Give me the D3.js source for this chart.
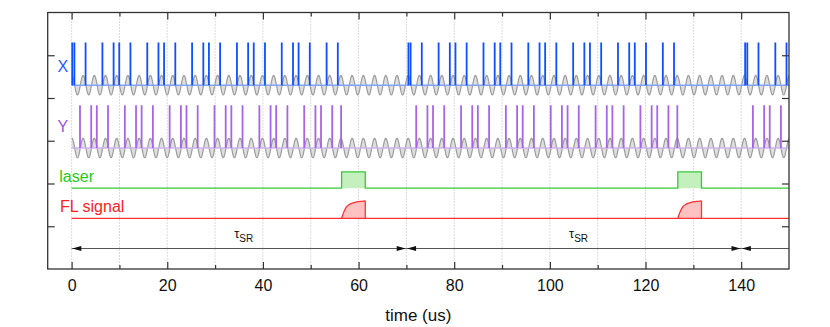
<!DOCTYPE html>
<html><head><meta charset="utf-8">
<script src="https://cdn.jsdelivr.net/npm/d3@7"></script>
<style>
html,body{margin:0;padding:0;background:#fff;}
svg{display:block;font-family:"Liberation Sans",Arial,sans-serif;}
</style></head><body>
<svg id="chart" width="830" height="327"></svg>
<script>
// ---------- data (time in us) ----------
const xPulseTimes = [0.13, 0.58, 2.92, 6.44, 8.78, 9.96, 12.30, 15.82, 18.16, 19.33, 21.68, 25.19, 27.54, 28.71, 31.05, 34.57, 36.91, 38.08, 40.43, 43.94, 46.29, 47.46, 49.80, 53.32, 55.66];
const yPulseTimes = [1.75, 4.10, 5.27, 7.61, 11.13, 13.47, 14.64, 16.99, 20.50, 22.85, 24.02, 26.36, 29.88, 32.22, 33.40, 35.74, 39.26, 41.60, 42.77, 45.12, 48.63, 50.98, 52.15, 54.49, 56.35];
const blockStarts = [0, 70.3, 140.7];
const laserStart = [56.45, 126.75];
const laserEnd = [61.4, 131.7];
const flRiseOffsets = [0, 0.35, 1.05, 1.74, 2.79, 3.83, 4.95];
const flRiseLevels = [0, 0.28, 0.66, 0.81, 0.91, 0.96, 1.0];
const tauSegments = [[0, 70], [70, 140], [140, 150]];
const tauLabelAt = [34, 104];
const xMajorTicks = [0, 20, 40, 60, 80, 100, 120, 140];
const xMinorTicks = [10, 30, 50, 70, 90, 110, 130];
const yTicks = [1, 2, 3, 4, 5];
const carrierPeriod = 2.344, carrierPeakAt = 2.40, carrierAmp = 0.227;
const tStart = 0, tEnd = 150;

// ---------- layout ----------
const x = d3.scaleLinear().domain([-5, 150]).range([47.7, 789]);
const y = d3.scaleLinear().domain([0, 6]).range([269, 12.5]);
const rowBase = {X: 4.30, Y: 2.83, laser: 1.89, fl: 1.186, arrow: 0.48};
const pulseH = 1.0, laserH = 0.38, flH = 0.41;

const svg = d3.select("#chart");
const x0 = x.range()[0], x1 = x.range()[1], yTop = y.range()[1], yBot = y.range()[0];

svg.append("defs").append("clipPath").attr("id", "clip")
  .append("rect").attr("x", x0).attr("y", yTop).attr("width", x1 - x0).attr("height", yBot - yTop);

// grid
svg.append("g").selectAll("line").data(xMajorTicks.concat(xMinorTicks)).join("line")
  .attr("x1", d => x(d)).attr("x2", d => x(d)).attr("y1", yTop).attr("y2", yBot)
  .attr("stroke", "#b8b8b8").attr("stroke-width", 1).attr("stroke-dasharray", "1,2");

const plot = svg.append("g").attr("clip-path", "url(#clip)");

// carrier waves
function carrier(base) {
  const pts = d3.range(tStart, tEnd + 0.001, 0.04).map(t => [t, base + carrierAmp * Math.cos(2 * Math.PI * (t - carrierPeakAt) / carrierPeriod)]);
  return pts;
}
[rowBase.X, rowBase.Y].forEach(base => {
  const pts = carrier(base);
  plot.append("path").datum(pts)
    .attr("d", d3.area().x(d => x(d[0])).y0(y(base)).y1(d => y(d[1])))
    .attr("fill", "#dedede");
  plot.append("path").datum(pts)
    .attr("d", d3.line().x(d => x(d[0])).y(d => y(d[1])))
    .attr("fill", "none").attr("stroke", "#9c9c9c").attr("stroke-width", 1.2);
});

// baselines
plot.append("line").attr("x1", x(tStart)).attr("x2", x(tEnd)).attr("y1", y(rowBase.X)).attr("y2", y(rowBase.X))
  .attr("stroke", "#7fa3ff").attr("stroke-width", 1.5);
plot.append("line").attr("x1", x(tStart)).attr("x2", x(tEnd)).attr("y1", y(rowBase.Y)).attr("y2", y(rowBase.Y))
  .attr("stroke", "#cdb3ef").attr("stroke-width", 1.5);

// pulses
function expand(times) {
  const out = [];
  blockStarts.forEach(b => times.forEach(t => { if (b + t <= tEnd) out.push(b + t); }));
  return out;
}
plot.append("g").selectAll("line").data(expand(xPulseTimes)).join("line")
  .attr("x1", d => x(d)).attr("x2", d => x(d))
  .attr("y1", y(rowBase.X)).attr("y2", y(rowBase.X + pulseH))
  .attr("stroke", "#0c50ff").attr("stroke-width", 1.8);
plot.append("g").selectAll("line").data(expand(yPulseTimes)).join("line")
  .attr("x1", d => x(d)).attr("x2", d => x(d))
  .attr("y1", y(rowBase.Y)).attr("y2", y(rowBase.Y + pulseH))
  .attr("stroke", "#a864e8").attr("stroke-width", 1.8);

// laser
laserStart.forEach((s, i) => {
  plot.append("rect").attr("x", x(s)).attr("width", x(laserEnd[i]) - x(s))
    .attr("y", y(rowBase.laser + laserH)).attr("height", y(rowBase.laser) - y(rowBase.laser + laserH))
    .attr("fill", "#c4f0be");
});
{
  const pts = [[tStart, rowBase.laser]];
  laserStart.forEach((s, i) => {
    pts.push([s, rowBase.laser], [s, rowBase.laser + laserH], [laserEnd[i], rowBase.laser + laserH], [laserEnd[i], rowBase.laser]);
  });
  pts.push([tEnd, rowBase.laser]);
  plot.append("path").datum(pts).attr("d", d3.line().x(d => x(d[0])).y(d => y(d[1])))
    .attr("fill", "none").attr("stroke", "#33cc33").attr("stroke-width", 1.3);
}

// FL signal
{
  const allPts = [[tStart, rowBase.fl]];
  laserStart.forEach((s, i) => {
    const curve = flRiseOffsets.map((o, k) => [s + o, rowBase.fl + flH * flRiseLevels[k]]);
    plot.append("path").datum(curve)
      .attr("d", d3.area().curve(d3.curveMonotoneX).x(d => x(d[0])).y0(y(rowBase.fl)).y1(d => y(d[1])))
      .attr("fill", "#ffc2c2");
    plot.append("path").datum(curve)
      .attr("d", d3.line().curve(d3.curveMonotoneX).x(d => x(d[0])).y(d => y(d[1])))
      .attr("fill", "none").attr("stroke", "#ff3030").attr("stroke-width", 1.3);
    plot.append("line").attr("x1", x(laserEnd[i])).attr("x2", x(laserEnd[i]))
      .attr("y1", y(rowBase.fl)).attr("y2", y(rowBase.fl + flH))
      .attr("stroke", "#ff3030").attr("stroke-width", 1.3);
  });
  plot.append("line").attr("x1", x(tStart)).attr("x2", x(tEnd)).attr("y1", y(rowBase.fl)).attr("y2", y(rowBase.fl))
    .attr("stroke", "#ff3030").attr("stroke-width", 1.3);
}

// tau_SR arrows
const ay = y(rowBase.arrow);
const headL = 9, headW = 2.6, tipGap = 0.7;
tauSegments.forEach(([a, b]) => {
  plot.append("line").attr("x1", x(a)).attr("x2", x(b)).attr("y1", ay).attr("y2", ay)
    .attr("stroke", "#555").attr("stroke-width", 1.2);
  const xa = x(a) + tipGap;
  plot.append("path").attr("d", `M${xa},${ay}L${xa + headL},${ay - headW}L${xa + headL},${ay + headW}Z`).attr("fill", "#111");
  if (b < tEnd) {
    const xb = x(b) - tipGap;
    plot.append("path").attr("d", `M${xb},${ay}L${xb - headL},${ay - headW}L${xb - headL},${ay + headW}Z`).attr("fill", "#111");
  }
});
tauLabelAt.forEach(t => {
  const tx = svg.append("text").attr("x", x(t)).attr("y", ay - 10.5).attr("fill", "#111").attr("font-size", 13);
  tx.append("tspan").text("τ");
  tx.append("tspan").attr("font-size", 10).attr("dy", 4.5).text("SR");
});

// frame
svg.append("rect").attr("x", x0).attr("y", yTop).attr("width", x1 - x0).attr("height", yBot - yTop)
  .attr("fill", "none").attr("stroke", "#333").attr("stroke-width", 1.3);

// axes
function styleAxis(g) { g.select(".domain").remove(); g.selectAll(".tick line").attr("stroke", "#333").attr("stroke-width", 1.2); }
svg.append("g").attr("transform", `translate(0,${yBot})`)
  .call(d3.axisBottom(x).tickValues(xMajorTicks).tickSizeInner(-7).tickSizeOuter(0).tickPadding(10.5).tickFormat(d3.format("d")))
  .call(styleAxis)
  .call(g => g.selectAll("text").attr("font-size", 16).attr("fill", "#111").attr("font-family", "Liberation Sans, Arial, sans-serif"));
svg.append("g").attr("transform", `translate(0,${yBot})`)
  .call(d3.axisBottom(x).tickValues(xMinorTicks).tickSizeInner(-4).tickSizeOuter(0).tickFormat(""))
  .call(styleAxis);
svg.append("g").attr("transform", `translate(0,${yTop})`)
  .call(d3.axisTop(x).tickValues(xMajorTicks).tickSizeInner(-7).tickSizeOuter(0).tickFormat(""))
  .call(styleAxis);
svg.append("g").attr("transform", `translate(0,${yTop})`)
  .call(d3.axisTop(x).tickValues(xMinorTicks).tickSizeInner(-4).tickSizeOuter(0).tickFormat(""))
  .call(styleAxis);
svg.append("g").attr("transform", `translate(${x0},0)`)
  .call(d3.axisLeft(y).tickValues(yTicks).tickSizeInner(-7).tickSizeOuter(0).tickFormat(""))
  .call(styleAxis);
svg.append("g").attr("transform", `translate(${x1},0)`)
  .call(d3.axisRight(y).tickValues(yTicks).tickSizeInner(-7).tickSizeOuter(0).tickFormat(""))
  .call(styleAxis);

// row labels
const labels = [
  {text: "X", x: 57.5, y: 72.3, color: "#1f5cff"},
  {text: "Y", x: 57.5, y: 132.3, color: "#9b55e2"},
  {text: "laser", x: 59.3, y: 182.3, color: "#22cc22"},
  {text: "FL signal", x: 60, y: 212.3, color: "#ff2020"}
];
svg.append("g").selectAll("text").data(labels).join("text")
  .attr("x", d => d.x).attr("y", d => d.y).attr("fill", d => d.color).attr("font-size", 16).text(d => d.text);

// axis title
svg.append("text").attr("x", (x0 + x1) / 2).attr("y", 321).attr("text-anchor", "middle")
  .attr("font-size", 17).attr("fill", "#111").text("time (us)");
</script>
</body></html>
